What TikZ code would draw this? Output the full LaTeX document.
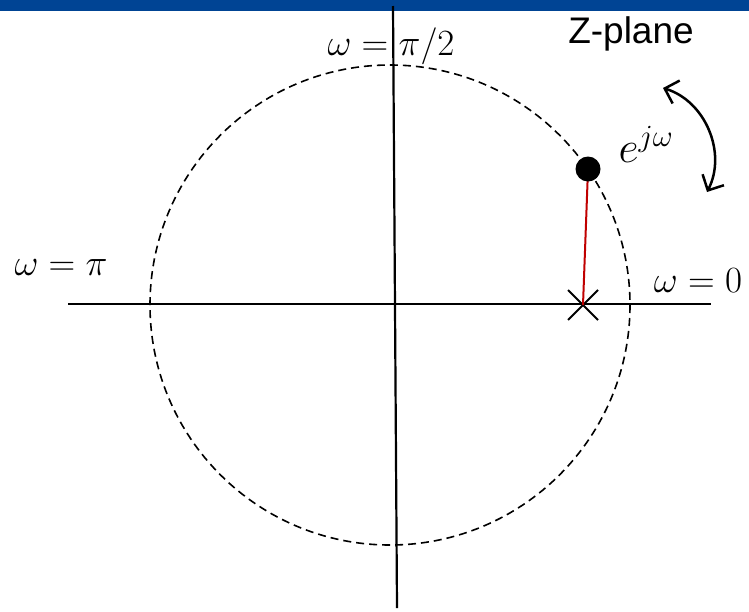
\RequirePackage{fix-cm}
\documentclass[tikz,border=0pt]{standalone}
\usepackage{fontspec}
\newfontfamily\zsans{Liberation Sans}
\usetikzlibrary{arrows.meta, shapes.misc}
\definecolor{barblue}{RGB}{0,68,148}
\definecolor{linered}{RGB}{192,0,0}

\begin{document}
\begin{tikzpicture}[
    x=1pt, y=-1pt,
    axis/.style={line width=2.2pt},
    unitcircle/.style={line width=1.6pt, dash pattern=on 8pt off 5pt},
    axlabel/.style={anchor=base, inner sep=0pt, font=\fontsize{37}{44}\selectfont},
    pole/.style={cross out, draw, line width=2pt, minimum size=28pt, inner sep=0pt},
    point/.style={circle, fill, minimum size=25pt, inner sep=0pt},
    swing/.style={{Straight Barb[length=12pt,width=24pt]}-{Straight Barb[length=12pt,width=24pt]}, line width=2.5pt}
]
    \useasboundingbox (0,0) rectangle (749,611);
    \fill[barblue] (0,0) rectangle (749,11);

    \coordinate (o) at (390,305);
    \coordinate (xl) at (68,304);
    \coordinate (xr) at (711,304);
    \coordinate (yt) at (393,6);
    \coordinate (yb) at (397,608);
    \coordinate (p) at (588,169);
    \coordinate (s1) at (663,88);
    \coordinate (s2) at (707,192);

    \draw[unitcircle] (o) circle[radius=240];
    \draw[axis] (xl) -- (xr);
    \draw[axis] (yt) -- (yb);

    \node[pole] (zero) at (583,305) {};
    \draw[linered, line width=2pt] (zero.center) -- (p);
    \node[point] (dot) at (p) {};
    \draw[swing] (s1) to[bend left=50] (s2);

    \node[axlabel] (wpi2) at (391,55) {$\omega=\pi/2$};
    \node[axlabel] (wpi) at (61,275) {$\omega=\pi$};
    \node[axlabel] (w0) at (698,292) {$\omega=0$};
    \node[axlabel, font=\fontsize{44}{50}\selectfont] (ejw) at (646,162) {$e^{j\omega}$};
    \node[axlabel, font=\zsans\fontsize{37}{44}\selectfont] (zp) at (631,43) {Z-plane};
\end{tikzpicture}
\end{document}
